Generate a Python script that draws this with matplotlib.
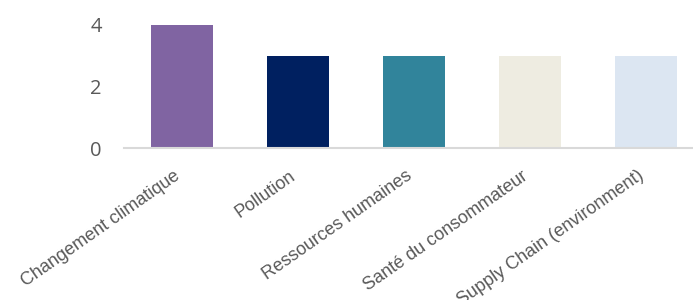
import matplotlib
matplotlib.use("Agg")
import matplotlib.pyplot as plt
from matplotlib.transforms import ScaledTranslation

categories = ["Changement climatique", "Pollution", "Ressources humaines",
              "Santé du consommateur", "Supply Chain (environment)"]
values = [4, 3, 3, 3, 3]
colors = ["#8064A2", "#002060", "#31849B", "#EEECE1", "#DCE6F2"]
yticks = [0, 2, 4]

fig = plt.figure(figsize=(6.93, 3.0), dpi=100)
ax = fig.add_axes([124/693, 152/300, 580/693, 123/300])

x = list(range(len(categories)))
ax.bar(x, values, width=0.535, color=colors, zorder=2)

ax.set_xlim(-0.5, 4.5)
ax.set_ylim(0, 4)
ax.set_yticks(yticks)
ax.set_yticklabels([str(t) for t in yticks], fontsize=14.5, color="#595959",
                   family=["Open Sans", "DejaVu Sans"])
ax.tick_params(axis="y", length=0, pad=16)
ax.set_xticks(x)
ax.set_xticklabels(categories, rotation=35, ha="right", rotation_mode="anchor",
                   fontsize=13, color="#595959",
                   family=["Liberation Sans", "DejaVu Sans"])
ax.tick_params(axis="x", length=0, pad=14)
offset = ScaledTranslation(-9/100, 0, fig.dpi_scale_trans)
for lbl in ax.get_xticklabels():
    lbl.set_transform(lbl.get_transform() + offset)

for s in ["top", "right", "left"]:
    ax.spines[s].set_visible(False)
ax.spines["bottom"].set_color("#D9D9D9")
ax.spines["bottom"].set_linewidth(1.5)
ax.spines["bottom"].set_zorder(3)

fig.savefig("out.png", dpi=100)
